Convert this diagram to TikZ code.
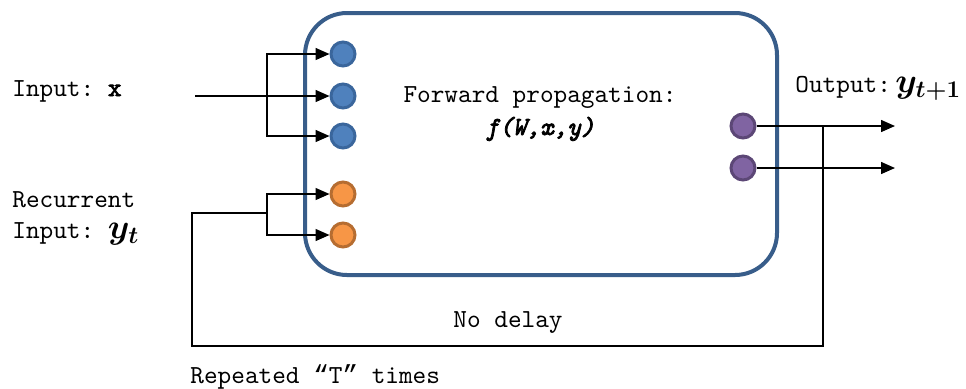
\documentclass[tikz,border=0pt]{standalone}
\usepackage{fontspec}
\usepackage{bm}
\setmonofont{lmmono10-regular.otf}[ItalicFont=lmmono10-italic.otf, BoldFont=lmmono10-regular.otf, BoldItalicFont=lmmono10-italic.otf, BoldFeatures={FakeBold=3}, BoldItalicFeatures={FakeBold=3}]
\newfontfamily\quotefont{Liberation Mono}
\usetikzlibrary{arrows.meta}
\definecolor{boxblue}{RGB}{56,93,138}
\definecolor{inblue}{RGB}{79,129,189}
\definecolor{inblueline}{RGB}{58,102,156}
\definecolor{recorange}{RGB}{247,150,70}
\definecolor{recorangeline}{RGB}{182,109,49}
\definecolor{outpurple}{RGB}{128,100,162}
\definecolor{outpurpleline}{RGB}{92,71,118}
\tikzset{
	unit/.style={circle, line width=1.5pt, minimum size=12pt, inner sep=0pt},
	inunit/.style={unit, fill=inblue, draw=inblueline},
	recunit/.style={unit, fill=recorange, draw=recorangeline},
	outunit/.style={unit, fill=outpurple, draw=outpurpleline},
	wire/.style={line width=0.75pt},
	link/.style={wire, -{Triangle[length=7pt, width=6pt]}},
	txt/.style={inner sep=0pt, font=\ttfamily\fontsize{13}{14}\selectfont}
}
\newcommand{\bigy}[1]{{\fontsize{17}{14}\selectfont$\bm{y}_{\bm{#1}}$}}
\begin{document}
\begin{tikzpicture}[x=0.5pt, y=-0.5pt]
		\useasboundingbox (0,0) rectangle (966,388);
		% cell
		\node[draw=boxblue, line width=2pt, rounded corners=21pt, minimum width=236pt, minimum height=131pt] (cell) at (541,144) {};
		\node[txt, align=center] (fwd) at (540,114) {Forward propagation:\\[2pt]\textbf{\textit{f(W,x,y)}}};
		% units
		\node[inunit] (in1) at (343,54) {};
		\node[inunit] (in2) at (343,96) {};
		\node[inunit] (in3) at (343,136) {};
		\node[recunit] (rec1) at (343,194) {};
		\node[recunit] (rec2) at (343,235) {};
		\node[outunit] (out1) at (743,126) {};
		\node[outunit] (out2) at (743,168) {};
		% inputs
		\node[txt, anchor=base west] (xlabel) at (12,96) {Input: \textbf{x}};
		\coordinate (xstart) at (195,96);
		\coordinate (xsplit) at (267,96);
		\draw[wire] (xstart) -- (xsplit);
		\draw[link] (xsplit) |- (in1);
		\draw[link] (xsplit) -- (in2);
		\draw[link] (xsplit) |- (in3);
		\node[txt, anchor=north west, align=left] (reclabel) at (12,191) {Recurrent\\[1.5pt]Input: \bigy{t}};
		% outputs
		\node[txt, anchor=base west] (outlabel) at (795,92) {Output:\,\bigy{t+1}};
		\coordinate (o1end) at (895,126);
		\coordinate (o2end) at (895,168);
		\draw[link] (out1) -- (o1end);
		\draw[link] (out2) -- (o2end);
		% loop back
		\coordinate (tap) at (823,126);
		\coordinate (loopright) at (823,346);
		\coordinate (loopleft) at (192,346);
		\coordinate (recstart) at (192,213);
		\coordinate (recsplit) at (267,213);
		\draw[wire] (tap) -- (loopright) -- (loopleft) -- (recstart) -- (recsplit);
		\draw[link] (recsplit) |- (rec1);
		\draw[link] (recsplit) |- (rec2);
		\node[txt] (nodelay) at (508,323) {No delay};
		\node[txt, anchor=west] (repeat) at (190,377) {Repeated {\quotefont“}T{\quotefont”} times};
	\end{tikzpicture}
\end{document}
